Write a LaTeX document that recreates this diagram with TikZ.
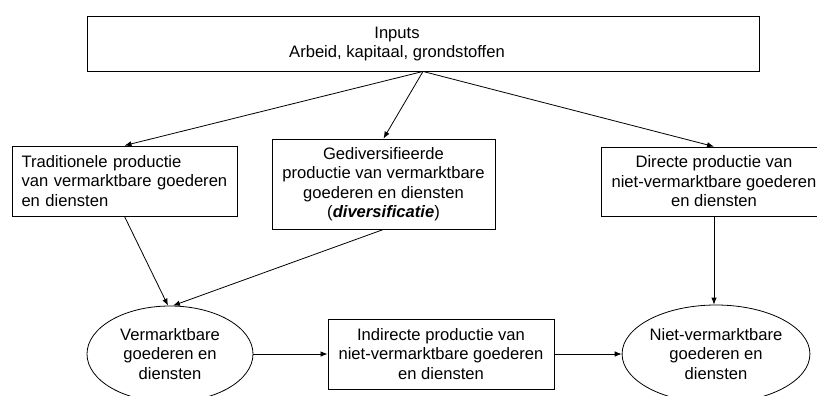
\documentclass[tikz,border=0pt]{standalone}
\usepackage{fontspec}
\setmainfont{Liberation Sans}
\usetikzlibrary{arrows.meta,shapes.geometric}
\begin{document}
\begin{tikzpicture}[x=1pt,y=-1pt,
  every node/.style={font=\fontsize{16.6}{19.5}\selectfont},
  box/.style={draw,line width=0.9pt,inner sep=0pt,align=center},
  oval/.style={draw,ellipse,line width=0.8pt,inner sep=0pt,align=center},
  txt/.style={inner sep=0pt,align=center},
  arr/.style={-{Latex[length=7pt,width=5.5pt]},line width=0.8pt}]
\useasboundingbox (0,0) rectangle (817,396);
\clip (0,0) rectangle (817,396);
% top box
\node[box,minimum width=672,minimum height=55] (inputs) at (423,43.5) {};
\node[txt] (inputstext) at (397,44) {Inputs\\Arbeid, kapitaal, grondstoffen};
% middle row
\node[box,minimum width=225,minimum height=70,text width=206pt,align=left] (trad) at (124.5,181)
  {Traditionele productie\\van vermarktbare goederen\\en diensten};
\node[box,minimum width=223,minimum height=90] (div) at (383.5,184)
  {Gediversifieerde\\productie van vermarktbare\\goederen en diensten\\(\textbf{\textit{diversificatie}})};
\node[box,minimum width=226,minimum height=69] (direct) at (714,181.5)
  {Directe productie van\\niet-vermarktbare goederen\\en diensten};
% bottom row
\node[oval,minimum width=166,minimum height=96] (vm) at (170,354)
  {Vermarktbare\\goederen en\\diensten};
\node[box,minimum width=226,minimum height=70] (indirect) at (441,354)
  {Indirecte productie van\\niet-vermarktbare goederen\\en diensten};
\node[oval,minimum width=170,minimum height=98] (nvm) at (716,354)
  {Niet-vermarktbare\\goederen en\\diensten};
% connectors
\draw[arr] (inputs.south) -- (trad.north);
\draw[arr] (inputs.south) -- (div.north);
\draw[arr] (inputs.south) -- (direct.north);
\draw[arr] (trad.south) -- ([xshift=-2pt]vm.north);
\draw[arr] (div.south) -- ([xshift=3pt]vm.north);
\draw[arr] (direct.south) -- (direct.south |- nvm.north);
\draw[arr] (vm.east) -- (indirect.west);
\draw[arr] (indirect.east) -- (nvm.west);
\end{tikzpicture}
\end{document}
